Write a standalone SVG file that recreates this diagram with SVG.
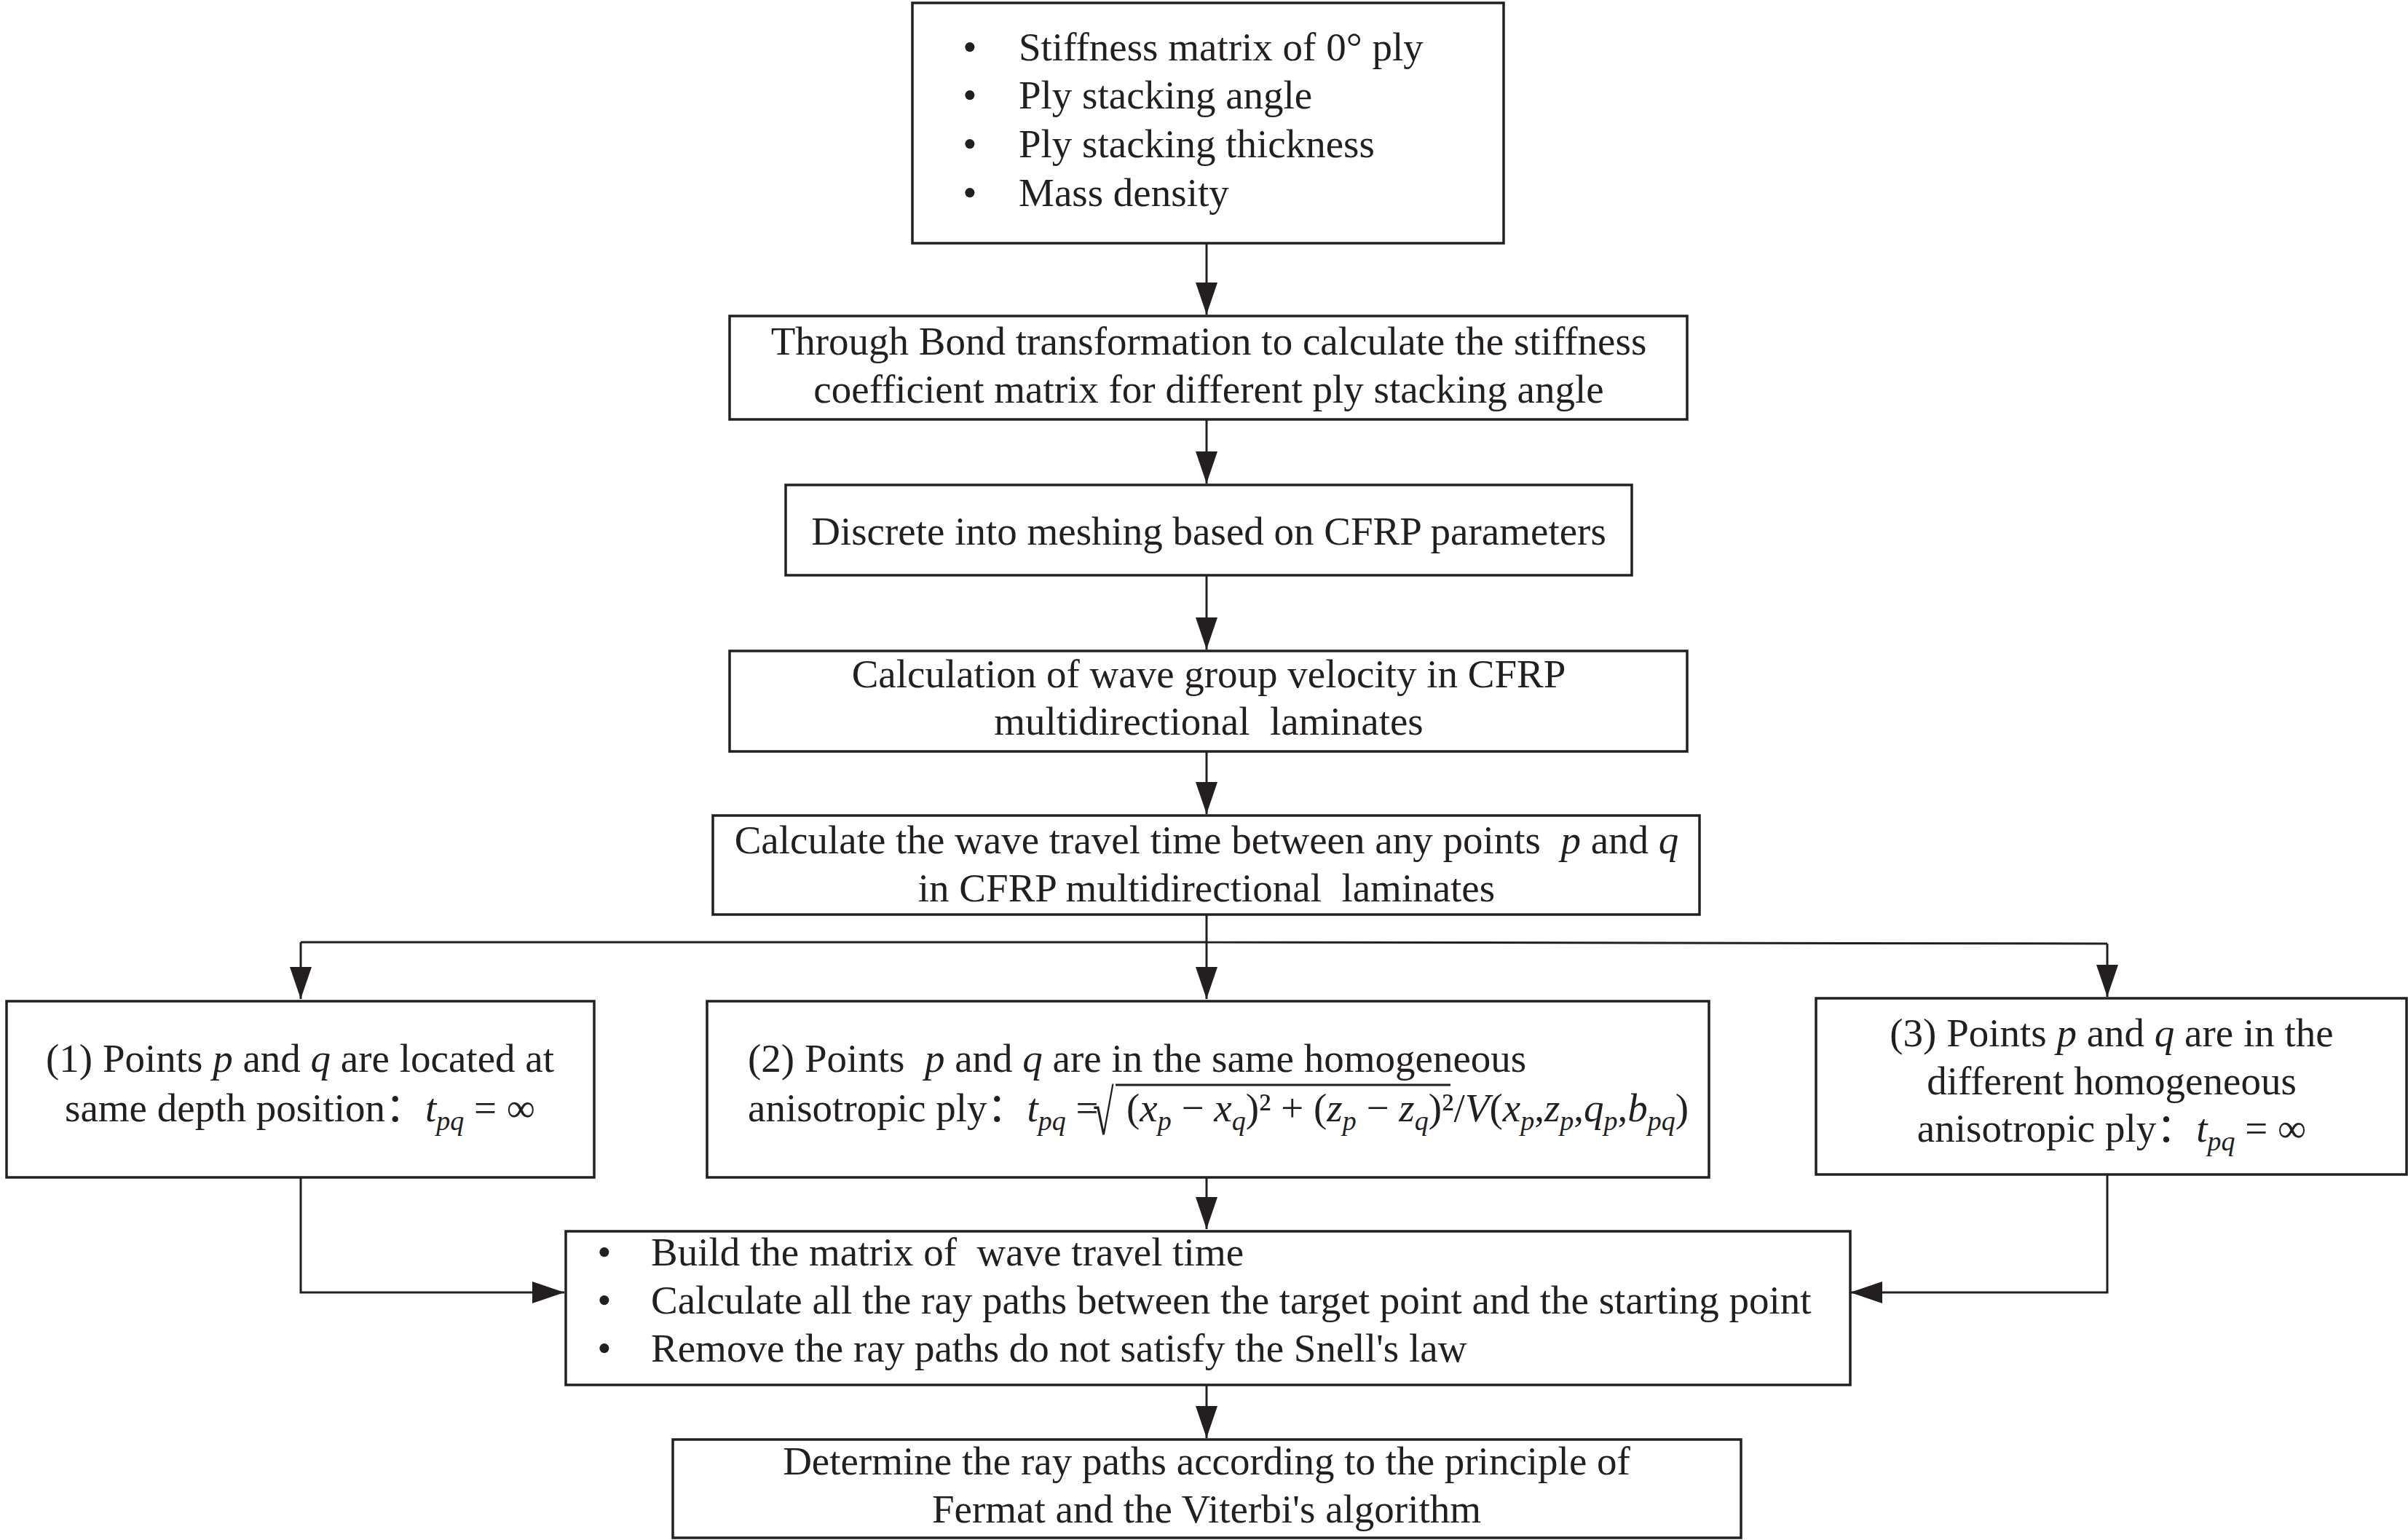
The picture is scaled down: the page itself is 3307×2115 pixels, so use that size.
<svg xmlns="http://www.w3.org/2000/svg" width="3307" height="2115" viewBox="0 0 3307 2115">
<defs>
<style>
.box{fill:#fff;stroke:#231f20;stroke-width:3.5}
.conn{fill:none;stroke:#231f20;stroke-width:3}
text{font-family:"Liberation Serif","Noto Sans CJK SC",serif;font-size:55px;fill:#231f20}
.c{text-anchor:middle}
.i{font-style:italic}
.s{font-size:38px;font-style:italic}
</style>
<marker id="ah" markerUnits="userSpaceOnUse" markerWidth="46" markerHeight="30" refX="44" refY="15" orient="auto" viewBox="0 0 46 30"><path d="M0,0 L44,15 L0,30 Z" fill="#231f20"/></marker>
</defs>
<rect width="3307" height="2115" fill="#fff"/>

<g id="connectors">
<path class="conn" d="M1657,334 V432" marker-end="url(#ah)"/>
<path class="conn" d="M1657,576 V664" marker-end="url(#ah)"/>
<path class="conn" d="M1657,790 V892" marker-end="url(#ah)"/>
<path class="conn" d="M1657,1032 V1118" marker-end="url(#ah)"/>
<path class="conn" d="M1657,1256 V1294 M413,1294 H1657 L2894,1296"/>
<path class="conn" d="M413,1294 V1372" marker-end="url(#ah)"/>
<path class="conn" d="M1657,1294 V1372" marker-end="url(#ah)"/>
<path class="conn" d="M2894,1296 V1369" marker-end="url(#ah)"/>
<path class="conn" d="M413,1617 V1775 H775" marker-end="url(#ah)"/>
<path class="conn" d="M2894,1613 V1775 H2541" marker-end="url(#ah)"/>
<path class="conn" d="M1657,1617 V1688" marker-end="url(#ah)"/>
<path class="conn" d="M1657,1902 V1975" marker-end="url(#ah)"/>
</g>

<g id="n1">
<rect class="box" x="1253" y="4" width="812" height="330"/>
<text class="c" x="1332" y="83">•</text><text x="1399" y="83">Stiffness matrix of 0° ply</text>
<text class="c" x="1332" y="149">•</text><text x="1399" y="149">Ply stacking angle</text>
<text class="c" x="1332" y="216">•</text><text x="1399" y="216">Ply stacking thickness</text>
<text class="c" x="1332" y="283">•</text><text x="1399" y="283">Mass density</text>
</g>

<g id="n2">
<rect class="box" x="1002" y="434" width="1315" height="142"/>
<text class="c" x="1660" y="487">Through Bond transformation to calculate the stiffness</text>
<text class="c" x="1660" y="553">coefficient matrix for different ply stacking angle</text>
</g>

<g id="n3">
<rect class="box" x="1079" y="666" width="1162" height="124"/>
<text class="c" x="1660" y="748">Discrete into meshing based on CFRP parameters</text>
</g>

<g id="n4">
<rect class="box" x="1002" y="894" width="1315" height="138"/>
<text class="c" x="1660" y="944">Calculation of wave group velocity in CFRP</text>
<text class="c" x="1660" y="1009" xml:space="preserve">multidirectional  laminates</text>
</g>

<g id="n5">
<rect class="box" x="979" y="1120" width="1355" height="136"/>
<text class="c" x="1657" y="1172" xml:space="preserve">Calculate the wave travel time between any points  <tspan class="i">p</tspan> and <tspan class="i">q</tspan></text>
<text class="c" x="1657" y="1238" xml:space="preserve">in CFRP multidirectional  laminates</text>
</g>

<g id="n6">
<rect class="box" x="9" y="1375" width="807" height="242"/>
<text class="c" x="412" y="1472">(1) Points <tspan class="i">p</tspan> and <tspan class="i">q</tspan> are located at</text>
<text class="c" x="412" y="1540">same depth position：<tspan class="i">t</tspan><tspan class="s" dy="12">pq</tspan><tspan dy="-12"> = ∞</tspan></text>
</g>

<g id="n7">
<rect class="box" x="971" y="1375" width="1376" height="242"/>
<text x="1027" y="1472" xml:space="preserve">(2) Points  <tspan class="i">p</tspan> and <tspan class="i">q</tspan> are in the same homogeneous</text>
<text x="1027" y="1540">anisotropic ply：<tspan class="i">t</tspan><tspan class="s" dy="12">pq</tspan><tspan dy="-12"> =</tspan></text>
<text x="0" y="0" font-size="60" transform="translate(1501,1558) scale(0.95,1.6)">√</text>
<line x1="1532" y1="1490" x2="1992" y2="1490" stroke="#231f20" stroke-width="3"/>
<text x="1547" y="1540">(<tspan class="i">x</tspan><tspan class="s" dy="12">p</tspan><tspan dy="-12"> − </tspan><tspan class="i">x</tspan><tspan class="s" dy="12">q</tspan><tspan dy="-12">)² + (</tspan><tspan class="i">z</tspan><tspan class="s" dy="12">p</tspan><tspan dy="-12"> − </tspan><tspan class="i">z</tspan><tspan class="s" dy="12">q</tspan><tspan dy="-12">)²/</tspan><tspan class="i">V</tspan>(<tspan class="i">x</tspan><tspan class="s" dy="12">p</tspan><tspan dy="-12">,</tspan><tspan class="i">z</tspan><tspan class="s" dy="12">p</tspan><tspan dy="-12">,</tspan><tspan class="i">q</tspan><tspan class="s" dy="12">p</tspan><tspan dy="-12">,</tspan><tspan class="i">b</tspan><tspan class="s" dy="12">pq</tspan><tspan dy="-12">)</tspan></text>
</g>

<g id="n8">
<rect class="box" x="2494" y="1371" width="811" height="242"/>
<text class="c" x="2900" y="1437">(3) Points <tspan class="i">p</tspan> and <tspan class="i">q</tspan> are in the</text>
<text class="c" x="2900" y="1503">different homogeneous</text>
<text class="c" x="2900" y="1568">anisotropic ply：<tspan class="i">t</tspan><tspan class="s" dy="12">pq</tspan><tspan dy="-12"> = ∞</tspan></text>
</g>

<g id="n9">
<rect class="box" x="777" y="1691" width="1764" height="211"/>
<text class="c" x="830" y="1738">•</text><text x="894" y="1738" xml:space="preserve">Build the matrix of  wave travel time</text>
<text class="c" x="830" y="1804">•</text><text x="894" y="1804">Calculate all the ray paths between the target point and the starting point</text>
<text class="c" x="830" y="1870">•</text><text x="894" y="1870">Remove the ray paths do not satisfy the Snell's law</text>
</g>

<g id="n10">
<rect class="box" x="924" y="1977" width="1467" height="135"/>
<text class="c" x="1657" y="2025">Determine the ray paths according to the principle of</text>
<text class="c" x="1657" y="2091">Fermat and the Viterbi's algorithm</text>
</g>
</svg>
